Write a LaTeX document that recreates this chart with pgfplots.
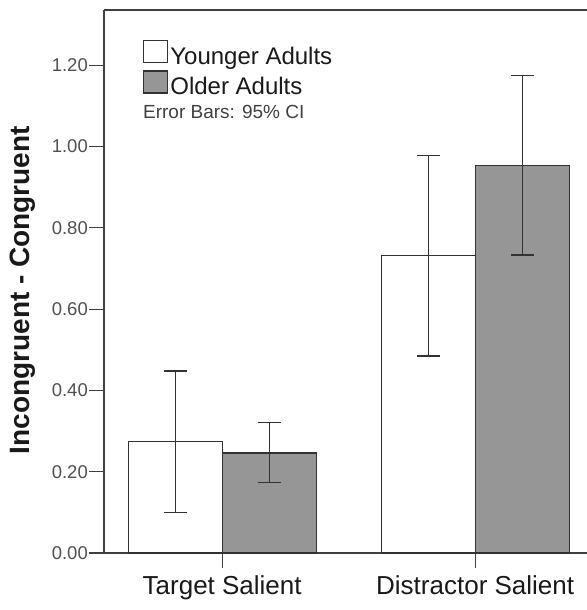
\documentclass[border=0pt]{standalone}
\usepackage{fontspec}
\setmainfont{Liberation Sans}
\usepackage{pgfplots}
\pgfplotsset{compat=1.18}
\definecolor{axisgray}{RGB}{64,64,64}
\definecolor{ticktext}{RGB}{80,80,80}
\definecolor{oldfill}{RGB}{150,150,150}
\definecolor{barline}{RGB}{50,50,50}
\definecolor{textdark}{RGB}{25,25,25}

\begin{document}
\begin{tikzpicture}
\begin{axis}[
    name=ax,
    scale only axis,
    width=483bp, height=543bp,
    xmin=-0.467, xmax=1.442,
    ymin=0, ymax=1.336,
    clip=false,
    axis x line*=bottom, axis y line*=left,
    axis line style={axisgray, line width=1.2bp},
    tick align=outside,
    major tick length=15bp,
    tick style={axisgray, line width=1.2bp},
    xtick={0,1},
    xticklabels={Target Salient, Distractor Salient},
    xticklabel style={font=\fontsize{26bp}{28bp}\selectfont, text=textdark, inner sep=0pt, yshift=-7bp},
    ytick={0,0.2,0.4,0.6,0.8,1.0,1.2},
    yticklabel style={font=\fontsize{18.5bp}{20bp}\selectfont, text=ticktext, inner sep=1bp,
        /pgf/number format/.cd, fixed, fixed zerofill, precision=2, assume math mode=true},
    ylabel={Incongruent - Congruent},
    every axis y label/.style={at={(rel axis cs:0,0.484)}, xshift=-81bp, rotate=90, anchor=center,
        font=\bfseries\fontsize{28bp}{30bp}\selectfont, text=textdark},
    legend style={at={(axis cs:-0.313,1.262)}, anchor=north west, draw=none, fill=none,
        inner sep=0pt, row sep=4bp, column sep=2bp,
        font=\fontsize{24bp}{26bp}\selectfont, text=textdark,
        nodes={inner sep=0pt}},
    legend cell align=left,
    error bars/error bar style={draw=barline, line width=1.25bp},
    error bars/error mark=|,
    error bars/error mark options={draw=barline, line width=1.25bp, mark size=11.5bp},
]
\draw[axisgray, line width=1.2bp] (rel axis cs:0,1) -- (rel axis cs:1,1);

% Younger adults
\addplot[ybar, bar width=0.3715, bar shift=0pt, fill=white, draw=barline, line width=1.2bp, forget plot,
    error bars/.cd, y dir=both, y explicit]
coordinates {
    (-0.1857,0.274) += (0,0.174) -= (0,0.175)
    (0.8143,0.731) += (0,0.247) -= (0,0.246)
};
% Older adults
\addplot[ybar, bar width=0.3715, bar shift=0pt, fill=oldfill, draw=barline, line width=1.2bp, forget plot,
    error bars/.cd, y dir=both, y explicit]
coordinates {
    (0.1857,0.246) += (0,0.0745) -= (0,0.073)
    (1.1857,0.954) += (0,0.220) -= (0,0.221)
};

\addlegendimage{legend image code/.code={\draw[fill=white, draw=barline, line width=1.2bp] (0bp,-6bp) rectangle (24bp,16bp);}}
\addlegendentry{Younger Adults}
\addlegendimage{legend image code/.code={\draw[fill=oldfill, draw=barline, line width=1.2bp] (0bp,-6bp) rectangle (24bp,16bp);}}
\addlegendentry{Older Adults}

\node[anchor=base west, inner sep=0pt, font=\fontsize{19bp}{21bp}\selectfont, text=axisgray]
    at (axis cs:-0.313,1.070) {Error Bars: 95\% CI};
\end{axis}
\pgfresetboundingbox
\path[use as bounding box] ([xshift=-104bp,yshift=-57bp]ax.south west) rectangle ([yshift=10bp]ax.north east);
\end{tikzpicture}
\end{document}
